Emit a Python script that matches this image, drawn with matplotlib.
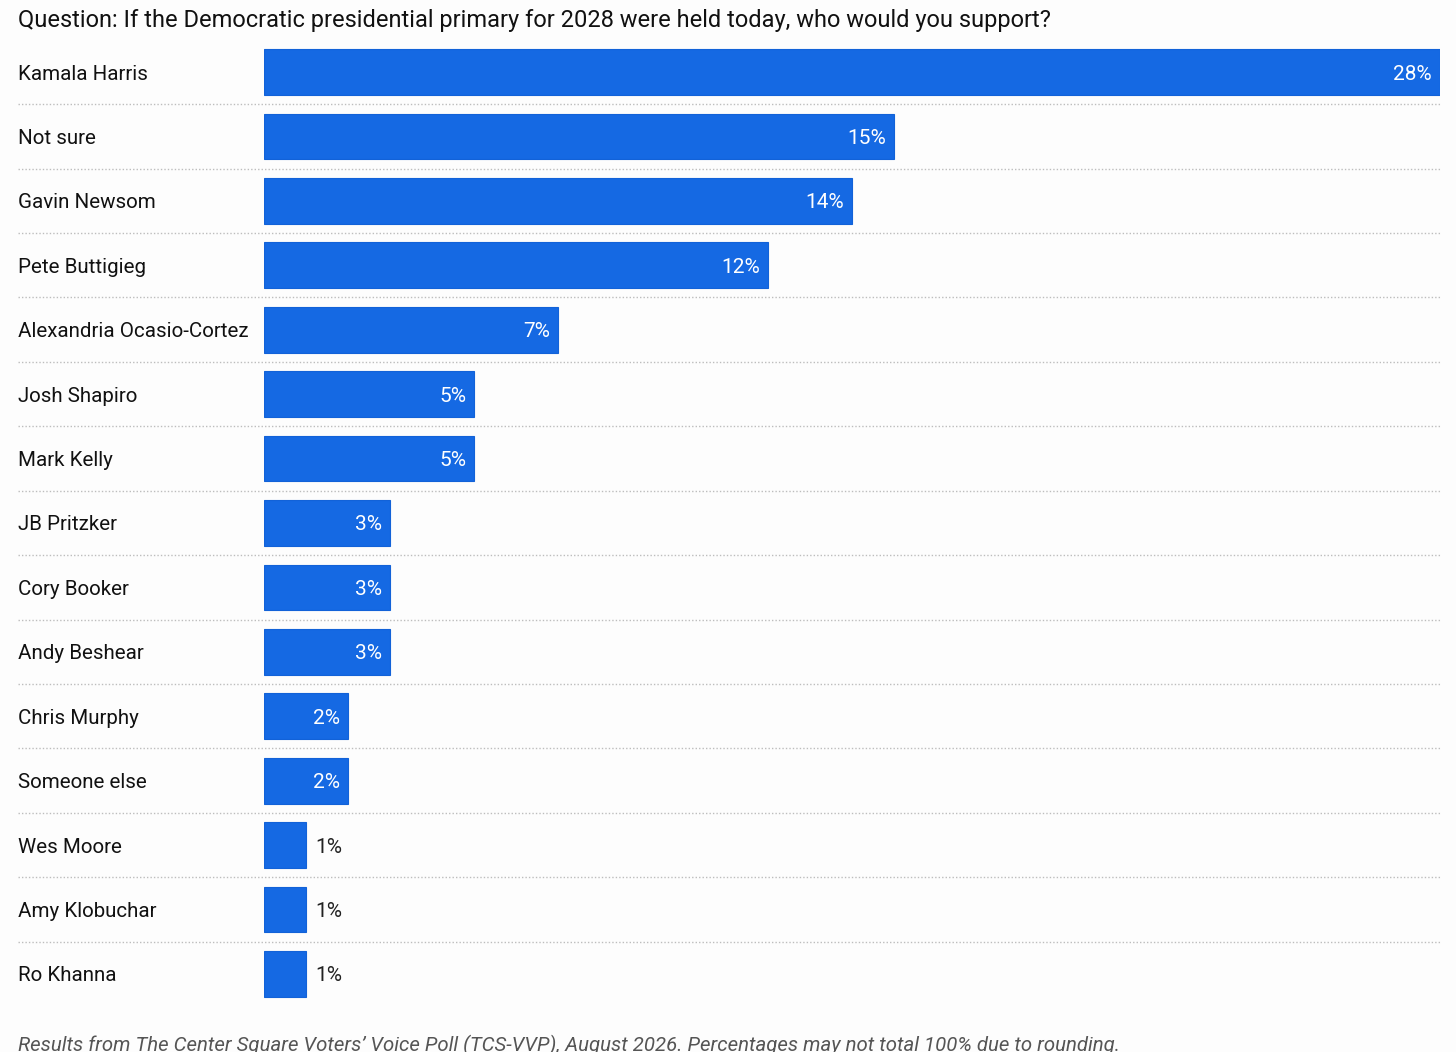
import matplotlib.pyplot as plt
from matplotlib.transforms import blended_transform_factory

plt.rcParams['font.family'] = ['Roboto', 'DejaVu Sans']

# data
candidates = ['Kamala Harris', 'Not sure', 'Gavin Newsom', 'Pete Buttigieg',
              'Alexandria Ocasio-Cortez', 'Josh Shapiro', 'Mark Kelly',
              'JB Pritzker', 'Cory Booker', 'Andy Beshear', 'Chris Murphy',
              'Someone else', 'Wes Moore', 'Amy Klobuchar', 'Ro Khanna']
support = [28, 15, 14, 12, 7, 5, 5, 3, 3, 3, 2, 2, 1, 1, 1]

title = 'Question: If the Democratic presidential primary for 2028 were held today, who would you support?'
note = ('Results from The Center Square Voters\u2019 Voice Poll (TCS-VVP), August 2026. '
        'Percentages may not total 100% due to rounding.')

W, H = 1456, 1052
bg = '#fdfdfd'
blue = '#1569e3'

fig = plt.figure(figsize=(W / 100, H / 100), dpi=100, facecolor=bg)
# axes spans bar area: x 264..1440 px, rows centred 72..974 px
row = (974 - 72) / 14
top = 72 - row / 2
bottom = 974 + row / 2
ax = fig.add_axes([264 / W, 1 - bottom / H, (1440 - 264) / W, (bottom - top) / H])
ax.set_facecolor(bg)

y = list(range(len(candidates)))
ax.barh(y, support, height=0.71, color=blue, edgecolor='#1262d8', linewidth=0.8)
ax.set_xlim(0, 28)
ax.set_ylim(len(candidates) - 0.5, -0.5)
ax.axis('off')

px = ax.transData.transform((1, 0))[0] - ax.transData.transform((0, 0))[0]
for i, v in enumerate(support):
    if v >= 2:
        ax.text(v - 8 / px, i, f'{v}%', ha='right', va='center_baseline', color='white',
                fontsize=15)
    else:
        ax.text(v + 9 / px, i, f'{v}%', ha='left', va='center_baseline', color='#222222',
                fontsize=15)

trans = blended_transform_factory(fig.transFigure, ax.transData)
for i, name in enumerate(candidates):
    ax.text(18 / W, i, name, transform=trans, ha='left', va='center_baseline',
            fontsize=14.75, color='#111111')

# dotted separators between rows
seps = [i + 0.5 for i in range(len(candidates) - 1)]
ax.hlines(seps, 18 / W, 1440 / W, transform=trans, colors='#bdbdbd',
          linestyles=(0, (1, 1.5)), linewidth=1, clip_on=False)

fig.text(18 / W, 1 - 18 / H, title, ha='left', va='center_baseline', fontsize=17,
         color='#111111')
fig.text(18 / W, 1 - 1043 / H, note, ha='left', va='center_baseline', fontsize=14.7,
         style='italic', color='#555555')

fig.savefig('out.png', dpi=100, facecolor=bg)
